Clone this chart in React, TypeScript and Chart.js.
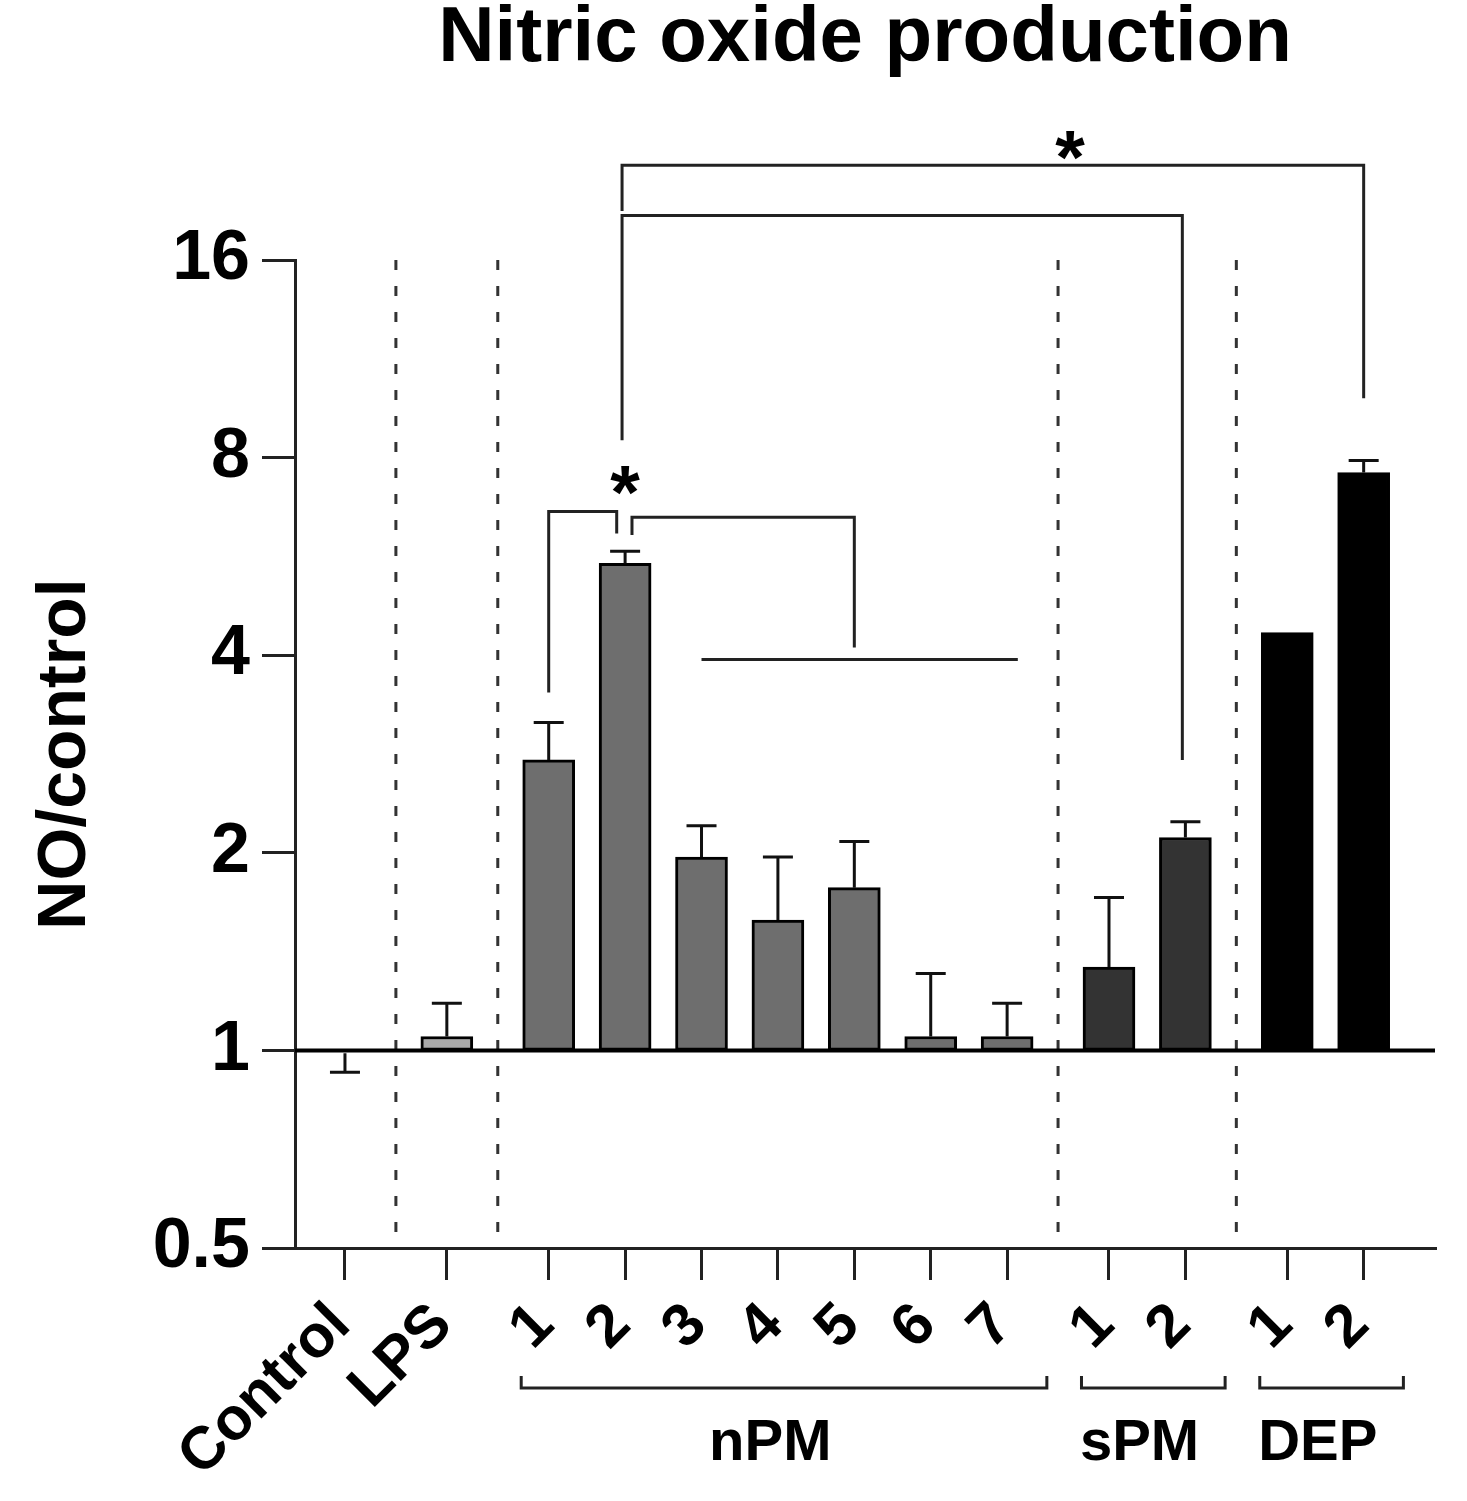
import React, { useEffect, useRef } from "react";
import { Chart, registerables } from "chart.js";

Chart.register(...registerables);

// ---------- data ----------
const categories = ["Control", "LPS", "1", "2", "3", "4", "5", "6", "7", "1", "2", "1", "2"];
const groups = ["Control", "LPS", "nPM", "nPM", "nPM", "nPM", "nPM", "nPM", "nPM", "sPM", "sPM", "DEP", "DEP"];
const meanValues = [0.99, 1.05, 2.77, 5.52, 1.97, 1.58, 1.77, 1.05, 1.05, 1.34, 2.11, 4.33, 7.59];
const errorEnds: (number | null)[] = [0.926, 1.18, 3.16, 5.76, 2.2, 1.97, 2.08, 1.31, 1.18, 1.71, 2.23, null, 7.92];
const barColors = [
  "rgba(255,255,255,0)", "#a9a9a9",
  "#6e6e6e", "#6e6e6e", "#6e6e6e", "#6e6e6e", "#6e6e6e", "#6e6e6e", "#6e6e6e",
  "#333333", "#333333",
  "#000000", "#000000",
];
const barBorderWidths = [0, 3, 3, 3, 3, 3, 3, 3, 3, 3, 3, 3, 3];
const yTicks = [0.5, 1, 2, 4, 8, 16];
const baselineValue = 1;
const groupLabels = [
  { label: "nPM", from: 2, to: 8 },
  { label: "sPM", from: 9, to: 10 },
  { label: "DEP", from: 11, to: 12 },
];
// significance brackets: [category index, offset in category steps]
const sigBrackets = [
  { x1: [2, 0], y1: 3.51, yTop: 6.62, x2: [3, -0.11], y2: 6.13 },
  { x1: [3, 0.09], y1: 6.1, yTop: 6.49, x2: [6, 0], y2: 4.11 },
  { x1: [3, -0.04], y1: 8.5, yTop: 18.7, x2: [10, -0.04], y2: 2.77 },
  { x1: [3, -0.04], y1: 19.0, yTop: 22.3, x2: [12, 0], y2: 9.85 },
];
const sigLines = [{ x1: [4, 0], x2: [8, 0.14], y: 3.94 }];
const sigStars = [
  { x: [3, 0], y: 7.5 },
  { x: [9, -0.51], y: 24.3 },
];

// ---------- derived x positions (group gaps wider) ----------
const positions: number[] = [];
categories.forEach((_, i) => {
  if (i === 0) positions.push(0);
  else positions.push(positions[i - 1] + (groups[i] === groups[i - 1] ? 1 : 4 / 3));
});
const dividers: number[] = [];
for (let i = 1; i < categories.length; i++) {
  if (groups[i] !== groups[i - 1]) dividers.push((positions[i] + positions[i - 1]) / 2);
}
const px = (ref: number[]) => positions[ref[0]] + ref[1];

const FONT = "'Liberation Sans', Arial, Helvetica, sans-serif";
const LINE = "#222222";

const overlayPlugin = {
  id: "overlay",
  beforeDatasetsDraw(chart: any) {
    const { ctx, chartArea: ca, scales } = chart;
    const x = scales.x;
    ctx.save();
    ctx.strokeStyle = "#333333";
    ctx.lineWidth = 3;
    ctx.setLineDash([10, 16]);
    dividers.forEach((d) => {
      const p = x.getPixelForValue(d);
      ctx.beginPath();
      ctx.moveTo(p, ca.top);
      ctx.lineTo(p, ca.bottom);
      ctx.stroke();
    });
    ctx.restore();
  },
  afterDatasetsDraw(chart: any) {
    const { ctx, chartArea: ca, scales } = chart;
    const x = scales.x;
    const y = scales.y;
    ctx.save();
    // error bars
    ctx.strokeStyle = "#111111";
    ctx.lineWidth = 3;
    const cap = 15;
    errorEnds.forEach((e, i) => {
      if (e == null) return;
      const cx = x.getPixelForValue(positions[i]);
      const y0 = y.getPixelForValue(meanValues[i]);
      const y1 = y.getPixelForValue(e);
      ctx.beginPath();
      ctx.moveTo(cx, y0);
      ctx.lineTo(cx, y1);
      ctx.moveTo(cx - cap, y1);
      ctx.lineTo(cx + cap, y1);
      ctx.stroke();
    });
    // baseline at 1
    const by = y.getPixelForValue(baselineValue);
    ctx.strokeStyle = "#000000";
    ctx.lineWidth = 4;
    ctx.beginPath();
    ctx.moveTo(ca.left, by);
    ctx.lineTo(ca.right, by);
    ctx.stroke();
    ctx.restore();
  },
  afterDraw(chart: any) {
    const { ctx, chartArea: ca, scales } = chart;
    const x = scales.x;
    const y = scales.y;
    ctx.save();
    ctx.strokeStyle = LINE;
    ctx.lineWidth = 3;
    ctx.lineJoin = "miter";
    // significance brackets
    sigBrackets.forEach((b) => {
      const xa = x.getPixelForValue(px(b.x1));
      const xb = x.getPixelForValue(px(b.x2));
      ctx.beginPath();
      ctx.moveTo(xa, y.getPixelForValue(b.y1));
      ctx.lineTo(xa, y.getPixelForValue(b.yTop));
      ctx.lineTo(xb, y.getPixelForValue(b.yTop));
      ctx.lineTo(xb, y.getPixelForValue(b.y2));
      ctx.stroke();
    });
    sigLines.forEach((l) => {
      const yy = y.getPixelForValue(l.y);
      ctx.beginPath();
      ctx.moveTo(x.getPixelForValue(px(l.x1)), yy);
      ctx.lineTo(x.getPixelForValue(px(l.x2)), yy);
      ctx.stroke();
    });
    // stars
    const starSize = 76;
    ctx.fillStyle = "#000000";
    ctx.font = `bold ${starSize}px ${FONT}`;
    ctx.textAlign = "center";
    ctx.textBaseline = "alphabetic";
    sigStars.forEach((s) => {
      ctx.fillText("*", x.getPixelForValue(px(s.x)), y.getPixelForValue(s.y) + 0.55 * starSize);
    });
    // group brackets below the axis
    const gy = ca.bottom + 140;
    groupLabels.forEach((g) => {
      const xa = x.getPixelForValue(positions[g.from] - 0.36);
      const xb = x.getPixelForValue(positions[g.to] + 0.52);
      ctx.beginPath();
      ctx.moveTo(xa, gy - 12);
      ctx.lineTo(xa, gy);
      ctx.lineTo(xb, gy);
      ctx.lineTo(xb, gy - 12);
      ctx.stroke();
      const cx = x.getPixelForValue((positions[g.from] + positions[g.to]) / 2 - 0.1);
      ctx.font = `bold 58px ${FONT}`;
      ctx.textBaseline = "middle";
      ctx.fillText(g.label, cx, ca.bottom + 196);
    });
    ctx.restore();
  },
};

export default function App() {
  const canvasRef = useRef<HTMLCanvasElement>(null);

  useEffect(() => {
    document.body.style.margin = "0";
    if (!canvasRef.current) return;
    Chart.defaults.font.family = FONT;
    const chart = new Chart(canvasRef.current, {
      type: "bar",
      data: {
        datasets: [
          {
            data: positions.map((p, i) => ({ x: p, y: [baselineValue, meanValues[i]] })) as any,
            backgroundColor: barColors,
            borderColor: "#000000",
            borderWidth: barBorderWidths,
            borderSkipped: false,
            barThickness: 52,
          },
        ],
      },
      options: {
        responsive: false,
        animation: false,
        devicePixelRatio: 1,
        layout: { padding: { top: 0, right: 32, bottom: 0, left: 0 } },
        plugins: {
          legend: { display: false },
          tooltip: { enabled: false },
          title: {
            display: true,
            text: "Nitric oxide production",
            fullSize: false,
            color: "#000000",
            font: { size: 78, weight: "bold", family: FONT, lineHeight: 1 },
            padding: { top: 0, bottom: 182 },
          },
        },
        scales: {
          x: {
            type: "linear",
            min: -0.654,
            max: 14.267,
            offset: false,
            afterBuildTicks: (s: any) => {
              s.ticks = positions.map((v) => ({ value: v }));
            },
            afterFit: (s: any) => {
              s.height = 253;
            },
            ticks: {
              callback: (_v: any, i: number) => categories[i],
              autoSkip: false,
              maxRotation: 45,
              minRotation: 45,
              labelOffset: -4,
              padding: 10,
              color: "#000000",
              font: { size: 60, weight: "bold", family: FONT },
            },
            grid: {
              offset: false,
              drawOnChartArea: false,
              drawTicks: true,
              tickLength: 32,
              lineWidth: 3,
              color: LINE,
            },
            border: { display: true, width: 3, color: LINE },
          },
          y: {
            type: "logarithmic",
            min: 0.5,
            max: 16,
            afterBuildTicks: (s: any) => {
              s.ticks = yTicks.map((v) => ({ value: v }));
            },
            afterFit: (s: any) => {
              s.width = 295;
            },
            ticks: {
              callback: (v: any) => String(v),
              autoSkip: false,
              padding: 12,
              color: "#000000",
              font: { size: 70, weight: "bold", family: FONT },
            },
            grid: {
              drawOnChartArea: false,
              drawTicks: true,
              tickLength: 33,
              lineWidth: 3,
              color: LINE,
            },
            border: { display: true, width: 3, color: LINE },
            title: {
              display: true,
              text: "NO/control",
              color: "#000000",
              font: { size: 68, weight: "bold", family: FONT },
              padding: { top: 25, bottom: 0 },
            },
          },
        },
      } as any,
      plugins: [overlayPlugin],
    });
    return () => chart.destroy();
  }, []);

  return (
    <div style={{ width: 1467, height: 1501 }}>
      <canvas ref={canvasRef} width={1467} height={1501} style={{ display: "block", width: 1467, height: 1501 }} />
    </div>
  );
}
